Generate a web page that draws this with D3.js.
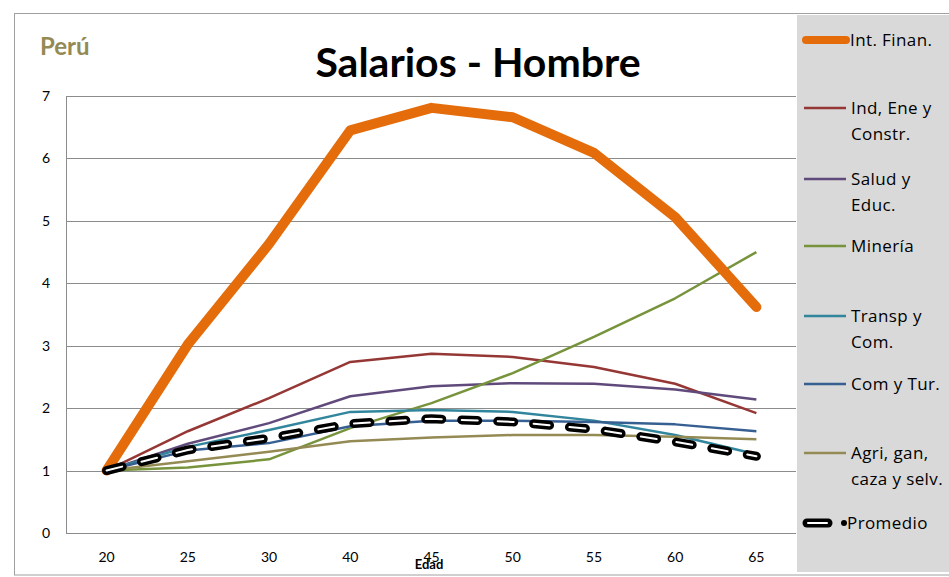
<!DOCTYPE html>
<meta charset="utf-8">
<style>
body { margin: 0; background: #fff; }
text { font-family: Lato, "Open Sans", sans-serif; }
.leg { font-family: "Open Sans", sans-serif; letter-spacing: 0.4px; }
</style>
<svg width="949" height="577"></svg>
<script src="https://d3js.org/d3.v7.min.js"></script>
<script>

var ages = ["20", "25", "30", "40", "45", "50", "55", "60", "65"];
var yTicks = [0, 1, 2, 3, 4, 5, 6, 7];

var intFinan   = [1.00, 3.02, 4.63, 6.45, 6.81, 6.66, 6.09, 5.06, 3.62];
var indEne     = [1.00, 1.63, 2.16, 2.74, 2.87, 2.82, 2.66, 2.39, 1.92];
var saludEduc  = [1.00, 1.43, 1.76, 2.19, 2.35, 2.40, 2.39, 2.30, 2.14];
var mineria    = [1.00, 1.05, 1.18, 1.68, 2.08, 2.56, 3.14, 3.76, 4.50];
var transpCom  = [1.00, 1.38, 1.65, 1.94, 1.97, 1.94, 1.80, 1.57, 1.26];
var comTur     = [1.00, 1.32, 1.44, 1.71, 1.80, 1.80, 1.78, 1.74, 1.63];
var agri       = [1.00, 1.15, 1.30, 1.47, 1.53, 1.57, 1.57, 1.54, 1.50];
var promedio   = [1.00, 1.33, 1.52, 1.75, 1.83, 1.78, 1.66, 1.46, 1.23];

var series = [
  { name: ["Ind, Ene y", "Constr."], values: indEne, color: "#953735", ly: 108 },
  { name: ["Salud y", "Educ."], values: saludEduc, color: "#604A7B", ly: 179 },
  { name: ["Minería"], values: mineria, color: "#77933C", ly: 246 },
  { name: ["Transp y", "Com."], values: transpCom, color: "#31859C", ly: 316 },
  { name: ["Com y Tur."], values: comTur, color: "#376092", ly: 384 },
  { name: ["Agri, gan,", "caza y selv."], values: agri, color: "#948A54", ly: 453 }
];

var svg = d3.select("svg");

// frame and legend box
svg.append("rect").attr("x", 14.5).attr("y", 13.5).attr("width", 940).attr("height", 561.5)
    .attr("fill", "#fff").attr("stroke", "#a0a0a0");
svg.append("rect").attr("x", 797).attr("y", 15).attr("width", 152).attr("height", 557)
    .attr("fill", "#D9D9D9");

var x = d3.scalePoint().domain(ages).range([66, 797]).padding(0.5);
var y = d3.scaleLinear().domain([0, 7]).range([533, 96]);

// gridlines
svg.append("g").selectAll("line").data(yTicks).join("line")
    .attr("x1", 66).attr("x2", 796)
    .attr("y1", function(d) { return Math.round(y(d)) + 0.5; })
    .attr("y2", function(d) { return Math.round(y(d)) + 0.5; })
    .attr("stroke", "#8c8c8c").attr("stroke-width", 1);
svg.append("line").attr("x1", 66.5).attr("x2", 66.5).attr("y1", 96).attr("y2", 533)
    .attr("stroke", "#8c8c8c");

// axis labels
svg.append("g").selectAll("text").data(yTicks).join("text")
    .attr("x", 50).attr("y", function(d) { return y(d) + 5; })
    .attr("text-anchor", "end").attr("font-size", 14).attr("fill", "#000")
    .text(function(d) { return d; });
svg.append("g").selectAll("text").data(ages).join("text")
    .attr("x", function(d) { return x(d); }).attr("y", 562)
    .attr("text-anchor", "middle").attr("font-size", 14).attr("fill", "#000")
    .text(function(d) { return d; });
svg.append("text").attr("x", 429).attr("y", 569).attr("text-anchor", "middle")
    .attr("font-size", 13).attr("font-weight", "bold").text("Edad");

// titles
svg.append("text").attr("x", 478).attr("y", 77).attr("text-anchor", "middle")
    .attr("font-size", 41).attr("font-weight", "bold").text("Salarios - Hombre");
svg.append("text").attr("x", 40).attr("y", 55)
    .attr("font-size", 24).attr("font-weight", "bold").attr("fill", "#948A54").text("Perú");

var line = d3.line()
    .x(function(d, i) { return x(ages[i]); })
    .y(function(d) { return y(d); });

series.forEach(function(s) {
  svg.append("path").datum(s.values).attr("d", line)
      .attr("fill", "none").attr("stroke", s.color).attr("stroke-width", 2.5)
      .attr("stroke-linejoin", "round");
});

svg.append("path").datum(intFinan).attr("d", line)
    .attr("fill", "none").attr("stroke", "#E46C0A").attr("stroke-width", 10)
    .attr("stroke-linejoin", "round").attr("stroke-linecap", "round");

// Promedio: black dashes with white core
svg.append("path").datum(promedio).attr("d", line)
    .attr("fill", "none").attr("stroke", "#000").attr("stroke-width", 9)
    .attr("stroke-dasharray", "16,20").attr("stroke-linecap", "round");
svg.append("path").datum(promedio).attr("d", line)
    .attr("fill", "none").attr("stroke", "#fff").attr("stroke-width", 2)
    .attr("stroke-dasharray", "16,20").attr("stroke-linecap", "round");

// legend
var lg = svg.append("g");
lg.append("line").attr("x1", 806).attr("x2", 846).attr("y1", 40).attr("y2", 40)
    .attr("stroke", "#E46C0A").attr("stroke-width", 8).attr("stroke-linecap", "round");
lg.append("text").attr("class", "leg").attr("x", 850).attr("y", 46).attr("font-size", 17).text("Int. Finan.");

series.forEach(function(s) {
  lg.append("line").attr("x1", 804).attr("x2", 846).attr("y1", s.ly).attr("y2", s.ly)
      .attr("stroke", s.color).attr("stroke-width", 2.5);
  s.name.forEach(function(t, k) {
    lg.append("text").attr("class", "leg").attr("x", 851).attr("y", s.ly + 6 + k * 26)
        .attr("font-size", 17).text(t);
  });
});

lg.append("line").attr("x1", 807).attr("x2", 828).attr("y1", 523).attr("y2", 523)
    .attr("stroke", "#000").attr("stroke-width", 9).attr("stroke-linecap", "round");
lg.append("line").attr("x1", 808).attr("x2", 827).attr("y1", 523).attr("y2", 523)
    .attr("stroke", "#fff").attr("stroke-width", 2).attr("stroke-linecap", "round");
lg.append("circle").attr("cx", 844).attr("cy", 523).attr("r", 3).attr("fill", "#000");
lg.append("text").attr("class", "leg").attr("x", 847).attr("y", 529).attr("font-size", 17).text("Promedio");

</script>
